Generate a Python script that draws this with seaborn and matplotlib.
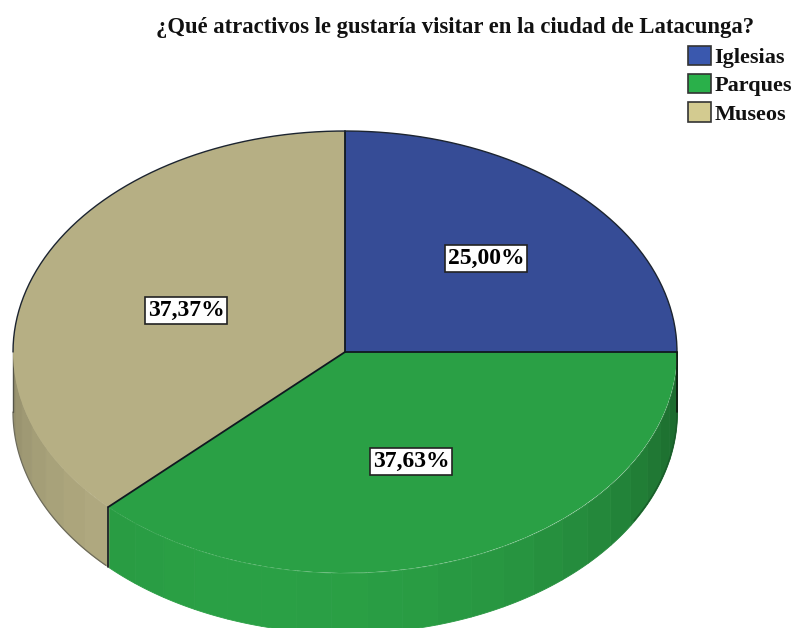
import numpy as np
import matplotlib
matplotlib.use("Agg")
import matplotlib.pyplot as plt
from matplotlib.patches import Patch
import seaborn as sns

title = "¿Qué atractivos le gustaría visitar en la ciudad de Latacunga?"
categories = ["Iglesias", "Parques", "Museos"]
percentages = [25.00, 37.63, 37.37]
top_colors = ["#364c96", "#2aa045", "#b6af84"]
legend_colors = ["#3a58ae", "#2ab04a", "#d3cb90"]

W, H = 794, 628
CX, CY, RX, RY = 345, 352, 332, 221
DEPTH = 60 / RY

sns.set_theme(style="white")
plt.rcParams["font.family"] = ["Liberation Serif", "DejaVu Serif"]
plt.rcParams["font.weight"] = "bold"

fig = plt.figure(figsize=(W / 100, H / 100), dpi=100, facecolor="white")
ax = fig.add_axes([0, 0, 1, 1])


def px(x, y):
    """Pixel position on the canvas to the axes' unit-circle coordinates."""
    return (x - CX) / RX, (CY - y) / RY


wedges, _ = ax.pie(
    percentages,
    colors=top_colors,
    startangle=90,
    counterclock=False,
    radius=1,
    wedgeprops={"linewidth": 0, "zorder": 3},
)
ax.set_aspect("auto")
ax.set_xlim(px(0, 0)[0], px(W, 0)[0])
ax.set_ylim(px(0, H)[1], px(0, 0)[1])
ax.axis("off")

# Clockwise angle from 12 o'clock at each slice boundary
bounds = np.concatenate([[0], np.cumsum(percentages)]) / sum(percentages) * 360


def shade(angle):
    t = min(abs(angle - 195) / 75, 1.4)
    return 1 - 0.20 * t**2


# Side wall of the disc: narrow facets along the visible lower half
for start, end, color in zip(bounds[:-1], bounds[1:], top_colors):
    lo, hi = max(start, 90), min(end, 270)
    if hi <= lo:
        continue
    steps = np.linspace(lo, hi, max(int((hi - lo) / 6), 2) + 1)
    base = np.array(matplotlib.colors.to_rgb(color))
    for a0, a1 in zip(steps[:-1], steps[1:]):
        th = np.radians(np.linspace(a0, a1, 8))
        fc = base * shade((a0 + a1) / 2)
        ax.fill_between(np.sin(th), np.cos(th), np.cos(th) - DEPTH,
                        color=fc, linewidth=0.6, zorder=1)

# Outlines: slice boundaries, back rim and outer wall edge
for angle in bounds[:-1]:
    th = np.radians(angle)
    ax.plot([0, np.sin(th)], [0, np.cos(th)], color="#101820", lw=1.3, zorder=4)
th = np.radians(bounds[2])
ax.plot([np.sin(th)] * 2, [np.cos(th), np.cos(th) - DEPTH],
        color="#101820", lw=1.2, zorder=4)

th = np.radians(np.linspace(-90, 90, 200))
ax.plot(np.sin(th), np.cos(th), color="#1c2430", lw=1.0, zorder=4)

th = np.radians(np.linspace(90, 270, 300))
edge = np.cos(th) - DEPTH
ax.plot(np.sin(th[th > np.radians(225.5)]), edge[th > np.radians(225.5)],
        color="#6e6c5c", lw=0.9, zorder=2)
ax.plot(np.sin(th[th < np.radians(120)]), edge[th < np.radians(120)],
        color="#1a5a2a", lw=0.9, zorder=2)
ax.plot([-1, -1], [0, -DEPTH], color="#55554a", lw=1.0, zorder=2)
ax.plot([1, 1], [0, -DEPTH], color="#101810", lw=1.2, zorder=4)

# Percentage labels in white boxes
label_px = [(486, 256), (411, 459), (186, 308)]
for value, (lx, ly) in zip(percentages, label_px):
    ax.text(*px(lx, ly), f"{value:.2f}%".replace(".", ","),
            ha="center", va="center_baseline", fontsize=17, color="black", zorder=6,
            bbox={"boxstyle": "square,pad=0.12", "fc": "white",
                  "ec": "#222222", "lw": 1.2})

fig.text(455 / W, 1 - 27 / H, title, ha="center", va="center",
         fontsize=16.3, color="#111111")

handles = [Patch(facecolor=c, edgecolor="#333333", lw=1.2) for c in legend_colors]
ax.legend(handles, categories, loc="upper left", frameon=False,
          bbox_to_anchor=(688 / W, 1 - 46 / H), bbox_transform=fig.transFigure,
          fontsize=16, handlelength=1.04, handleheight=0.95, labelcolor="#111111",
          handletextpad=0.15, labelspacing=0.27, borderpad=0, borderaxespad=0)

fig.savefig("out.png", dpi=100, facecolor="white")
